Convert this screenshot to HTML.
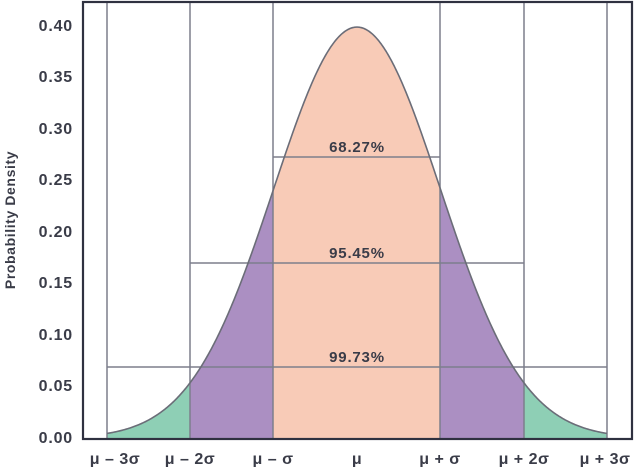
<!DOCTYPE html>
<html><head><meta charset="utf-8"><style>
html,body{margin:0;padding:0;background:#fff;}
svg{display:block;font-family:"Liberation Sans",sans-serif;}
</style></head><body>
<svg id="s" width="634" height="467" viewBox="0 0 634 467" xmlns="http://www.w3.org/2000/svg">
<g id="fills"></g>
<g stroke="#7d7f8c" stroke-width="1.5" fill="none">
<line x1="107" y1="2" x2="107" y2="439"/>
<line x1="190" y1="2" x2="190" y2="439"/>
<line x1="273" y1="2" x2="273" y2="439"/>
<line x1="440" y1="2" x2="440" y2="439"/>
<line x1="524" y1="2" x2="524" y2="439"/>
<line x1="607" y1="2" x2="607" y2="439"/>
<line x1="273" y1="157" x2="440" y2="157"/>
<line x1="190" y1="263" x2="524" y2="263"/>
<line x1="107" y1="367" x2="607" y2="367"/>
</g>
<path id="curve" fill="none" stroke="#6b6d78" stroke-width="1.6"/>
<rect x="83" y="2" width="549" height="437" fill="none" stroke="#2f3140" stroke-width="2.2"/>
<g font-size="15" font-weight="bold" fill="#3a3c48" text-anchor="middle" letter-spacing="0.8">
<text x="357" y="152">68.27%</text>
<text x="357" y="258">95.45%</text>
<text x="357" y="362">99.73%</text>
</g>
<g font-size="16" font-weight="bold" fill="#3a3c48" text-anchor="end" letter-spacing="0.8">
<text x="73" y="31">0.40</text>
<text x="73" y="82">0.35</text>
<text x="73" y="134">0.30</text>
<text x="73" y="185">0.25</text>
<text x="73" y="237">0.20</text>
<text x="73" y="288">0.15</text>
<text x="73" y="340">0.10</text>
<text x="73" y="391">0.05</text>
<text x="73" y="443">0.00</text>
</g>
<g font-size="16" font-weight="bold" fill="#3a3c48" text-anchor="middle" letter-spacing="0.5">
<text x="115" y="464">μ – 3σ</text>
<text x="190" y="464">μ – 2σ</text>
<text x="273" y="464">μ – σ</text>
<text x="357" y="464">μ</text>
<text x="440" y="464">μ + σ</text>
<text x="524" y="464">μ + 2σ</text>
<text x="605" y="464">μ + 3σ</text>
</g>
<text transform="translate(15,220) rotate(-90)" font-size="14" font-weight="bold" fill="#3a3c48" text-anchor="middle" letter-spacing="0.6">Probability Density</text>
</svg>
<script>
var mu=357,sg=83.33,y0=438,k=1030;
function Y(x){var z=(x-mu)/sg;return y0-k*Math.exp(-z*z/2)/Math.sqrt(2*Math.PI);}
function area(a,b,c){var d="M"+a+","+y0;for(var x=a;x<=b+0.01;x+=1)d+=" L"+x.toFixed(1)+","+Y(x).toFixed(2);d+=" L"+b+","+Y(b).toFixed(2)+" L"+b+","+y0+" Z";
return '<path d="'+d+'" fill="'+c+'"/>';}
var g=document.getElementById("fills");
g.innerHTML=area(107,190,"#8ecfb5")+area(524,607,"#8ecfb5")+area(190,273,"#ab8fc2")+area(440,524,"#ab8fc2")+area(273,440,"#f8cbb7");
var d="";for(var x=107;x<=607;x+=1)d+=(x==107?"M":" L")+x+","+Y(x).toFixed(2);
document.getElementById("curve").setAttribute("d",d);
</script>
</body></html>
